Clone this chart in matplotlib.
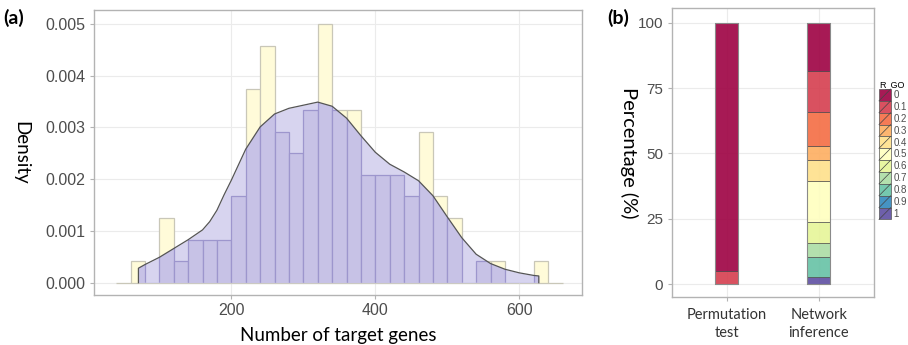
import matplotlib
matplotlib.use('Agg')
import matplotlib.pyplot as plt
from matplotlib.patches import Rectangle, Polygon, Patch
from matplotlib.lines import Line2D
from matplotlib.legend_handler import HandlerBase

# ---------------- Panel (a) data ----------------
bin_left = [40, 60, 80, 100, 120, 140, 160, 180, 200, 220, 240, 260, 280, 300, 320,
            340, 360, 380, 400, 420, 440, 460, 480, 500, 520, 540, 560, 580, 600, 620, 640]
bin_counts = [0, 1, 0, 3, 1, 2, 2, 2, 4, 9, 11, 7, 6, 8, 12,
              8, 8, 5, 5, 5, 4, 7, 4, 3, 0, 1, 1, 0, 0, 1, 0]
n_total = 120
bin_width = 20

density_x = [71, 80, 100, 120, 140, 160, 170, 180, 190, 200, 220, 240, 260, 280, 300,
             320, 340, 360, 380, 400, 420, 440, 460, 480, 500, 520, 540, 560, 580,
             600, 620, 627]
density_y = [0.00028, 0.00035, 0.00049, 0.00066, 0.00083, 0.00102, 0.00118, 0.00140,
             0.00170, 0.00198, 0.00258, 0.00301, 0.00326, 0.00337, 0.00343, 0.00349,
             0.00341, 0.00318, 0.00284, 0.00252, 0.00229, 0.00214, 0.00197, 0.00168,
             0.00127, 0.00087, 0.00055, 0.00037, 0.00026, 0.00019, 0.00014, 0.00013]

a_xticks = [200, 400, 600]
a_yticks = [0.000, 0.001, 0.002, 0.003, 0.004, 0.005]
a_yticklabels = ['0.000', '0.001', '0.002', '0.003', '0.004', '0.005']

# ---------------- Panel (b) data ----------------
methods = ['Permutation\ntest', 'Network\ninference']
r_go_levels = ['0', '0.1', '0.2', '0.3', '0.4', '0.5', '0.6', '0.7', '0.8', '0.9', '1']
pct_permutation = [95.0, 5.0, 0, 0, 0, 0, 0, 0, 0, 0, 0]
pct_network = [18.5, 15.6, 13.1, 5.3, 8.0, 15.8, 8.0, 5.4, 7.5, 0.0, 2.8]
level_colors = ['#9E0142', '#D53E4F', '#F46D43', '#FDAE61', '#FEE08B', '#FFFFBF',
                '#E6F598', '#ABDDA4', '#66C2A5', '#3288BD', '#5E4FA2']
b_yticks = [0, 25, 50, 75, 100]

# ---------------- style ----------------
tick_col = '#4D4D4D'
border_col = '#B3B3B3'
grid_col = '#EBEBEB'
title_font = ['Lato', 'DejaVu Sans']
tick_font = ['Liberation Sans', 'DejaVu Sans']

fig = plt.figure(figsize=(9.08, 3.45), dpi=100)

# ================= Panel (a) =================
ax1 = fig.add_axes([94/908, 50/345, 488/908, 285/345])
ax1.set_xlim(9.3, 687)
ax1.set_ylim(-0.000238, 0.00527)
ax1.set_axisbelow(True)
ax1.grid(True, color=grid_col, lw=0.8)

heights = [c / (n_total * bin_width) for c in bin_counts]
ax1.bar(bin_left, heights, width=bin_width, align='edge', color='#FFFBD9',
        edgecolor='#C9C7B8', linewidth=0.9, zorder=2)

poly_x = [density_x[0]] + density_x + [density_x[-1]]
poly_y = [0] + density_y + [0]
ax1.fill_between(density_x, 0, density_y, color='#D7D4EF', lw=0, zorder=3)
clip_poly = Polygon(list(zip(poly_x, poly_y)), closed=True, transform=ax1.transData,
                    facecolor='none', edgecolor='none')
ax1.add_patch(clip_poly)
over = ax1.bar(bin_left, heights, width=bin_width, align='edge', color='#C7C2E6',
               edgecolor='#9D96CD', linewidth=0.9, zorder=4)
for p in over.patches:
    p.set_clip_path(clip_poly)
ax1.plot(poly_x, poly_y, color='#555555', lw=0.9, zorder=5)

ax1.set_xticks(a_xticks)
ax1.set_xticklabels([str(t) for t in a_xticks], fontfamily=tick_font, fontsize=11.5,
                    color=tick_col)
ax1.set_yticks(a_yticks)
ax1.set_yticklabels(a_yticklabels, fontfamily=tick_font, fontsize=11.5, color=tick_col)
ax1.tick_params(length=3, width=0.8, color=border_col, pad=3)
for s in ax1.spines.values():
    s.set_color(border_col)
    s.set_linewidth(1.0)
ax1.set_xlabel('Number of target genes', fontfamily=title_font, fontsize=13.5,
               labelpad=6)
ax1.set_ylabel('Density', fontfamily=title_font, fontsize=13.5, rotation=270,
               labelpad=14, va='center')
ax1.yaxis.set_label_coords(-0.15, 0.5)

fig.text(3/908, 1 - 18/345, '(a)', fontfamily=title_font, fontweight='bold',
         fontsize=14, va='center', ha='left')

# ================= Panel (b) =================
ax2 = fig.add_axes([671.7/908, 48.3/345, 202.3/908, 288.4/345])
ax2.set_xlim(0.4, 2.6)
ax2.set_ylim(-4.74, 105.5)
ax2.set_axisbelow(True)
ax2.grid(True, color=grid_col, lw=0.8)
xpos = [1, 2]
bar_w = 0.25

for col_vals, x in zip([pct_permutation, pct_network], xpos):
    bottom = 0.0
    for lvl in range(len(r_go_levels) - 1, -1, -1):
        v = col_vals[lvl]
        if v > 0:
            ax2.bar(x, v, bottom=bottom, width=bar_w, color=level_colors[lvl],
                    alpha=0.9, edgecolor='#4a4a4a', linewidth=0.5, zorder=3)
        bottom += v
    ax2.bar(x, bottom, width=bar_w, fill=False, edgecolor='#8a8a8a', linewidth=0.8,
            zorder=4)

ax2.set_xticks(xpos)
ax2.set_xticklabels(methods, fontfamily=title_font, fontsize=10.5, color='#333333',
                    linespacing=1.35)
ax2.set_yticks(b_yticks)
ax2.set_yticklabels([str(t) for t in b_yticks], fontfamily=tick_font, fontsize=11,
                    color=tick_col)
ax2.tick_params(length=3, width=0.8, color=border_col, pad=3)
ax2.tick_params(axis='x', pad=5)
for s in ax2.spines.values():
    s.set_color(border_col)
    s.set_linewidth(1.0)
ax2.set_ylabel('Percentage (%)', fontfamily=title_font, fontsize=14.5, rotation=270,
               va='center')
ax2.yaxis.set_label_coords(-0.21, 0.5)

fig.text(607/908, 1 - 18/345, '(b)', fontfamily=title_font, fontweight='bold',
         fontsize=14, va='center', ha='left')


class KeyHandler(HandlerBase):
    def create_artists(self, legend, orig_handle, xdescent, ydescent, width, height,
                       fontsize, trans):
        r = Rectangle((-xdescent, -ydescent), width, height,
                      facecolor=orig_handle.get_facecolor(), edgecolor='#555555',
                      lw=0.5, transform=trans)
        ln = Line2D([-xdescent, -xdescent + width], [-ydescent, -ydescent + height],
                    color='#444444', lw=0.5, transform=trans)
        return [r, ln]


handles = [Patch(facecolor=c, alpha=0.9) for c in level_colors]
leg = fig.legend(handles=handles, labels=r_go_levels, handler_map={Patch: KeyHandler()},
                 loc='upper left', bbox_to_anchor=(879/908, 1 - 80/345), frameon=False,
                 fontsize=7, title='R_GO', title_fontsize=6.5, handlelength=1.2,
                 handleheight=1.5, labelspacing=0.0, handletextpad=0.3,
                 borderpad=0, borderaxespad=0, alignment='left')
for t in leg.get_texts():
    t.set_color(tick_col)
    t.set_fontfamily(tick_font)
leg.get_title().set_fontfamily(tick_font)

fig.savefig('out.png', dpi=100)
